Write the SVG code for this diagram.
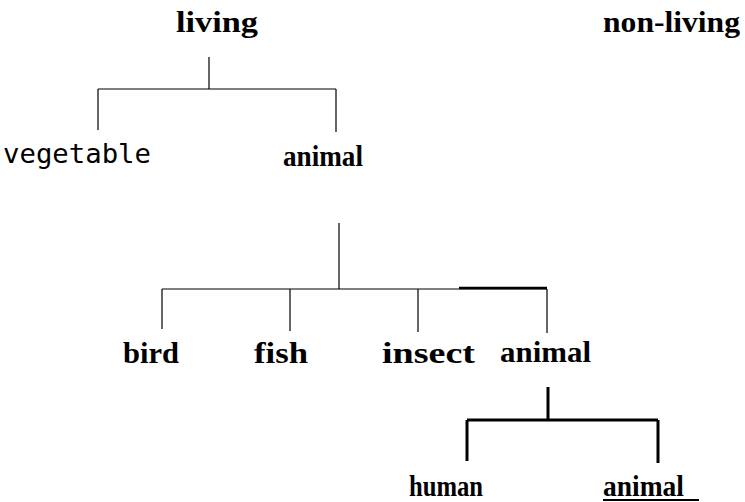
<svg xmlns="http://www.w3.org/2000/svg" width="745" height="502" viewBox="0 0 745 502">
  <style>
    .b { font-family: "Liberation Serif", "DejaVu Serif", serif; font-weight: bold; font-size: 29px; fill: #000; }
    .r { font-family: "DejaVu Sans Mono", "Liberation Mono", monospace; font-size: 27px; fill: #000; }
    .thin { stroke: #000; stroke-width: 1.2; fill: none; }
    .thick { stroke: #000; stroke-width: 3; fill: none; }
  </style>
  <rect width="745" height="502" fill="#fff"/>

  <!-- tree connectors -->
  <g id="connectors">
    <!-- living -> vegetable / animal -->
    <path class="thin" d="M209 57 V89 M98 89 H336 M98 89 V130 M336 89 V132"/>
    <!-- animal -> bird / fish / insect / animal -->
    <path class="thin" d="M339 223 V289 M162 289 H547 M162 289 V329 M290 289 V331 M418 289 V332 M547 289 V333"/>
    <path stroke="#000" stroke-width="2.5" d="M459 288 H547"/>
    <!-- animal -> human / animal -->
    <path class="thick" d="M548 387 V420 M467 420 H658 M467 420 V461 M658 420 V463"/>
  </g>

  <g id="living"><text class="b" x="176" y="32" textLength="82" lengthAdjust="spacingAndGlyphs">living</text></g>
  <g id="non-living"><text class="b" x="603" y="32" textLength="137" lengthAdjust="spacingAndGlyphs">non-living</text></g>
  <g id="vegetable"><text class="r" x="3" y="163" textLength="148" lengthAdjust="spacingAndGlyphs">vegetable</text></g>
  <g id="animal-1"><text class="b" x="283" y="166" textLength="80" lengthAdjust="spacingAndGlyphs">animal</text></g>
  <g id="bird"><text class="b" x="123" y="363" textLength="56" lengthAdjust="spacingAndGlyphs">bird</text></g>
  <g id="fish"><text class="b" x="254" y="363" textLength="54" lengthAdjust="spacingAndGlyphs">fish</text></g>
  <g id="insect"><text class="b" x="382" y="363" textLength="93" lengthAdjust="spacingAndGlyphs">insect</text></g>
  <g id="animal-2"><text class="b" x="500" y="362" textLength="91" lengthAdjust="spacingAndGlyphs">animal</text></g>
  <g id="human"><text class="b" x="409" y="496" textLength="74" lengthAdjust="spacingAndGlyphs">human</text></g>
  <g id="animal-3">
    <text class="b" x="603" y="496" textLength="81" lengthAdjust="spacingAndGlyphs">animal</text>
    <path stroke="#000" stroke-width="2" d="M603 500 H699"/>
  </g>
</svg>
